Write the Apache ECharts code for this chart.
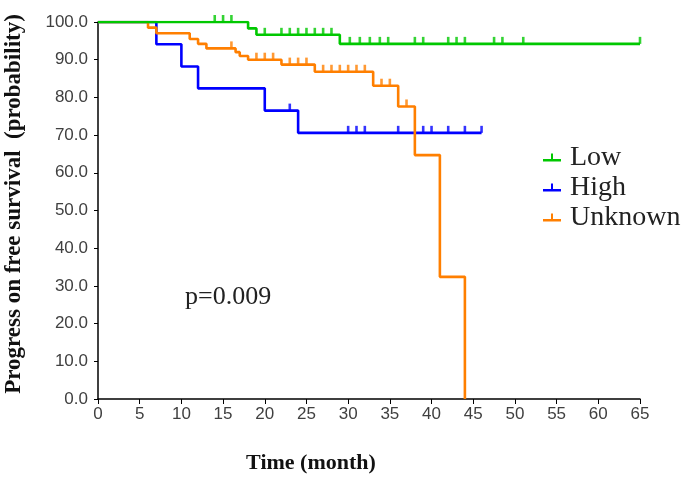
<!DOCTYPE html>
<html>
<head>
<meta charset="utf-8">
<script src="https://cdn.jsdelivr.net/npm/echarts@6/dist/echarts.min.js"></script>
<style>
html,body{margin:0;padding:0;background:#fff;}
#chart{width:685px;height:477px;}
</style>
</head>
<body>
<div id="chart"></div>
<script>
// ---- data ----
const seriesNames = ['Low', 'High', 'Unknown'];
const xTicks = [0, 5, 10, 15, 20, 25, 30, 35, 40, 45, 50, 55, 60, 65];
const yTicks = [0, 10, 20, 30, 40, 50, 60, 70, 80, 90, 100];

const lowEventMonths = [0, 18, 19, 29, 65];
const lowSurvival    = [100, 98.3, 96.6, 94.2, 94.2];
const lowCensorMonths = [14, 15, 16, 20, 22, 23, 24, 25, 26, 27, 28, 30.2, 31.4, 32.6, 33.8, 34.8, 38, 39, 42, 43, 44, 47.5, 48.5, 51, 65];

const highEventMonths = [0, 7, 10, 12, 20, 24, 46];
const highSurvival    = [100, 94.1, 88.2, 82.4, 76.5, 70.6, 70.6];
const highCensorMonths = [23, 30, 31, 32, 36, 39, 40, 42, 44, 46];

const unkEventMonths = [0, 6, 7, 11, 12, 13, 16.5, 17, 18, 22, 26, 33, 36, 38, 41, 44];
const unkSurvival    = [100, 98.5, 97.0, 95.5, 94.2, 93.0, 92.0, 91.0, 90.0, 88.7, 86.8, 83.1, 77.6, 64.7, 32.4, 0];
const unkCensorMonths = [16, 19, 20, 21, 23, 24, 25, 27, 28, 29, 30, 31, 32, 34, 35, 37];

const pValueText = 'p=0.009';

// ---- helpers ----
function curve(times, surv) { return times.map((t, i) => [t, surv[i]]); }
function censorPoints(times, surv, cens) {
  return cens.map(c => {
    let v = surv[0];
    for (let i = 0; i < times.length; i++) { if (times[i] <= c) v = surv[i]; }
    return [c, v];
  });
}

const colors = { Low: '#00c800', High: '#0000ff', Unknown: '#ff7f00' };
const groups = {
  Low: [lowEventMonths, lowSurvival, lowCensorMonths],
  High: [highEventMonths, highSurvival, highCensorMonths],
  Unknown: [unkEventMonths, unkSurvival, unkCensorMonths]
};
const drawOrder = ['High', 'Unknown', 'Low'];
const series = [];
drawOrder.forEach((name, k) => {
  const [t, s, c] = groups[name];
  series.push({
    name: name, type: 'line', step: 'end', showSymbol: false, z: 2 + k,
    data: curve(t, s), color: colors[name],
    lineStyle: { color: colors[name], width: 2.6 }, animation: false
  });
  series.push({
    name: name + '_censor', type: 'scatter', z: 2 + k,
    data: censorPoints(t, s, c), symbol: 'rect', symbolSize: [2.6, 7], symbolOffset: [0, -3.5],
    itemStyle: { color: colors[name] }, animation: false, silent: true
  });
});

const chart = echarts.init(document.getElementById('chart'), null, { renderer: 'canvas' });
chart.setOption({
  backgroundColor: '#fff',
  animation: false,
  grid: { left: 98, right: 45, top: 22, bottom: 78, containLabel: false },
  xAxis: {
    type: 'value', min: xTicks[0], max: xTicks[xTicks.length - 1], interval: 5,
    axisLine: { lineStyle: { color: '#000', width: 1.5 } },
    axisTick: { lineStyle: { color: '#000' }, length: 5 },
    splitLine: { show: false },
    axisLabel: { color: '#404040', fontFamily: 'Liberation Sans', fontSize: 17, margin: 7 }
  },
  yAxis: {
    type: 'value', min: yTicks[0], max: yTicks[yTicks.length - 1], interval: 10,
    axisLine: { show: true, lineStyle: { color: '#000', width: 1.5 } },
    axisTick: { show: true, lineStyle: { color: '#000' }, length: 4 },
    splitLine: { show: false },
    axisLabel: { color: '#404040', fontFamily: 'Liberation Sans', fontSize: 17, margin: 10,
      formatter: v => v.toFixed(1) }
  },
  legend: {
    data: seriesNames, orient: 'vertical', left: 538, top: 138, itemGap: 1,
    itemWidth: 18, itemHeight: 9,
    icon: 'path://M0,6.5 L18,6.5 L18,9 L0,9 Z M8,1 L10,1 L10,7 L8,7 Z',
    textStyle: { fontFamily: 'Liberation Serif', fontSize: 28, lineHeight: 29, color: '#222', padding: [0, 0, 0, 4] }
  },
  graphic: [
    { type: 'text', left: 185, top: 284, style: { text: pValueText, font: '26px "Liberation Serif"', fill: '#222' } },
    { type: 'text', x: 311, y: 463, style: { text: 'Time (month)', font: 'bold 22px "Liberation Serif"', fill: '#111', align: 'center', verticalAlign: 'middle' } },
    { type: 'text', x: 14, y: 204, rotation: Math.PI / 2, style: { text: 'Progress on free survival  (probability)', font: 'bold 23px "Liberation Serif"', fill: '#111', align: 'center', verticalAlign: 'middle' } }
  ],
  series: series
});
</script>
</body>
</html>
